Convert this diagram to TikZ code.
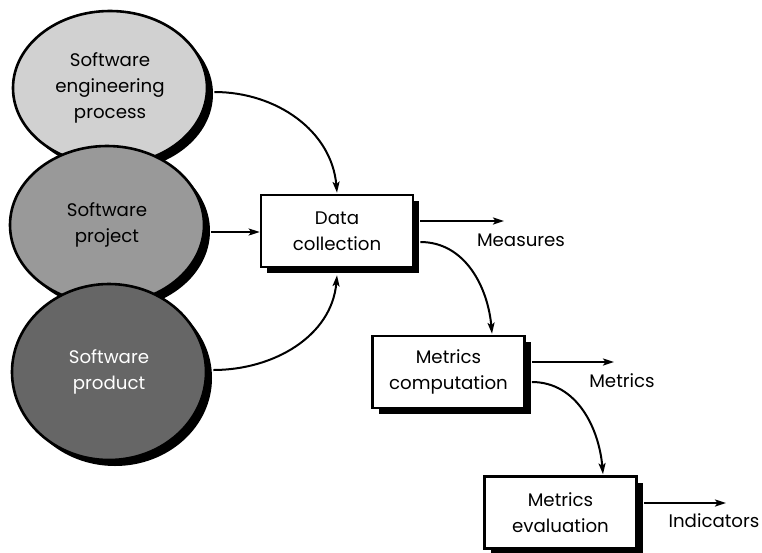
\documentclass[tikz,border=0pt]{standalone}
\usepackage{fontspec}
\setmainfont{Poppins}
\usetikzlibrary{shapes.geometric,shadows,arrows.meta,calc}
\begin{document}
\begin{tikzpicture}[x=1pt,y=1pt,
 blob/.style={ellipse,draw=black,line width=2.6pt,align=center,inner sep=0pt,
   drop shadow={shadow xshift=6pt,shadow yshift=-6pt,fill=black,opacity=1}},
 procbox/.style={rectangle,draw=black,line width=2.6pt,fill=white,align=center,
   minimum width=152pt,minimum height=72pt,inner sep=0pt,
   drop shadow={shadow xshift=6pt,shadow yshift=-6pt,fill=black,opacity=1}},
 conn/.style={line width=2pt,-{Stealth[length=11pt,width=7pt,inset=2.5pt]}},
 lbl/.style={inner sep=0pt},
 font=\fontsize{18.2}{26}\selectfont]
\useasboundingbox (0,0) rectangle (762,-552);

\node[blob,fill=black!18,minimum width=194pt,minimum height=154pt] (sep) at (110,-88)
  {Software\\engineering\\process};
\node[blob,fill=black!40,minimum width=194pt,minimum height=158pt] (sproj) at (107,-225)
  {Software\\project};
\node[blob,fill=black!60,minimum width=194pt,minimum height=176pt,text=white] (sprod) at (109,-372)
  {Software\\product};

\node[procbox] (dc) at (337,-231) {Data\\collection};
\node[procbox] (mc) at (448.5,-372) {Metrics\\computation};
\node[procbox] (me) at (560.5,-512.5) {Metrics\\evaluation};

\node[lbl] (meas) at (521,-240) {Measures};
\node[lbl] (metr) at (622,-381) {Metrics};
\node[lbl] (ind) at (714,-521) {Indicators};

\coordinate (measend) at (504,-221);
\coordinate (metrend) at (614,-362);
\coordinate (indend) at (726,-503);
\coordinate (spstart) at ($(sproj.east)+(6,-7)$);

% inputs
\draw[conn] ($(sep.east)+(6,-4)$) to[out=0,in=95] ($(dc.north)+(0,1)$);
\draw[conn] (spstart) -- (spstart -| dc.west);
\draw[conn] ($(sprod.east)+(6,2)$) to[out=0,in=-95] ($(dc.south)+(0,-7)$);

% outputs
\draw[conn] ($(dc.east)+(6,10)$) -- (measend);
\draw[conn] ($(dc.east)+(6,-11)$) to[out=0,in=95] ($(mc.north)+(43.5,1)$);
\draw[conn] ($(mc.east)+(6,10)$) -- (metrend);
\draw[conn] ($(mc.east)+(6,-10)$) to[out=0,in=95] ($(me.north)+(42.5,1)$);
\draw[conn] ($(me.east)+(6,9.5)$) -- (indend);
\end{tikzpicture}
\end{document}
